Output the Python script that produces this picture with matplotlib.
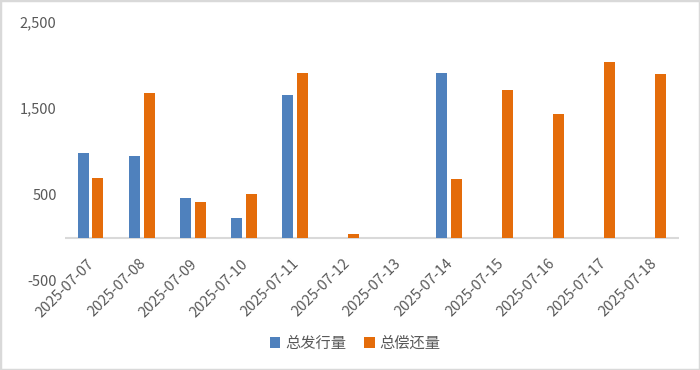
import matplotlib
matplotlib.use("Agg")
import matplotlib.pyplot as plt
import numpy as np
from matplotlib.patches import Rectangle

plt.rcParams['font.family'] = ['Noto Sans CJK SC', 'DejaVu Sans']

categories = ["2025-07-07", "2025-07-08", "2025-07-09", "2025-07-10", "2025-07-11",
              "2025-07-12", "2025-07-13", "2025-07-14", "2025-07-15", "2025-07-16",
              "2025-07-17", "2025-07-18"]
issuance = [980, 942, 463, 227, 1645, 0, 0, 1904, 0, 0, 0, 0]
repayment = [695, 1676, 413, 505, 1904, 46, 0, 675, 1707, 1432, 2031, 1892]
series_names = ["总发行量", "总偿还量"]
yticks = [-500, 500, 1500, 2500]

blue = "#4F81BD"
orange = "#E46C0A"
text_color = "#595959"

fig = plt.figure(figsize=(7.0, 3.7), dpi=100)
ax = fig.add_axes([65/700, 1-281/370, (679-65)/700, (281-21.5)/370])

x = np.arange(len(categories))
w = 0.215
off = 0.143
ax.bar(x - off, issuance, width=w, color=blue, label=series_names[0])
ax.bar(x + off, repayment, width=w, color=orange, label=series_names[1])

ax.set_xlim(-0.5, len(categories) - 0.5)
ax.set_ylim(-500, 2500)
ax.set_yticks(yticks)
ax.set_yticklabels([f"{v:,}" for v in yticks], fontsize=10.5, color=text_color)
ax.tick_params(axis='y', length=0, pad=6)
ax.tick_params(axis='x', length=0, labelbottom=False)
ax.set_xticks([])
for s in ax.spines.values():
    s.set_visible(False)
ax.axhline(0, color="#D9D9D9", lw=1.5, zorder=0.5)

for i, c in enumerate(categories):
    ax.text(i + 0.03, -275, c, rotation=45, rotation_mode='anchor',
            ha='right', va='center', fontsize=10.5, color=text_color)

leg = fig.legend(loc='center', bbox_to_anchor=(355/700, 1-343/370), ncol=2,
                 frameon=False, fontsize=11, handlelength=0.7, handleheight=0.7,
                 handletextpad=0.3, columnspacing=1.2)
for t in leg.get_texts():
    t.set_color(text_color)

fig.patches.append(Rectangle((0, 0), 1, 1, transform=fig.transFigure,
                             fill=False, edgecolor="#D9D9D9", lw=2.5))

fig.savefig("out.png", dpi=100)
